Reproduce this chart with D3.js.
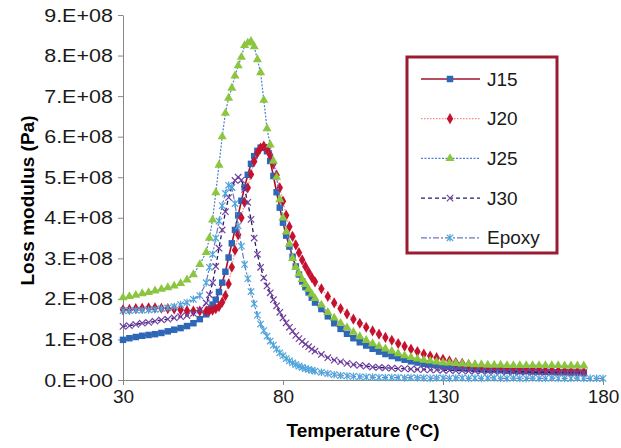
<!DOCTYPE html>
<html>
<head>
<meta charset="utf-8">
<script src="https://cdn.jsdelivr.net/npm/d3@7"></script>
<style>
  body { margin: 0; background: #fff; }
  text { font-family: "Liberation Sans", Arial, sans-serif; }
</style>
</head>
<body>
<div id="chart"></div>
<script>
// temperature (°C) of the readings of the J series
const temps = [30,32,34,36,38,40,42,44,46,48,50,52,54,56,
  57,58,59,60,61,62,63,64,65,66,67,68,69,70,71,72,73,74,75,76,77,78,79,80,81,82,83,84,85,86,87,88,89,90,
  92,94,96,98,100,102,104,106,108,110,112,114,116,118,120,122,124,126,128,130,132,134,136,138,140,
  142,144,146,148,150,152,154,156,158,160,162,164,166,168,170,172,174];
const epoxyTemps = temps.concat([176, 178, 180]);

// loss modulus, in 1E+08 Pa
const j15 = [0.99,1.03,1.06,1.09,1.11,1.13,1.16,1.2,1.24,1.28,1.33,1.4,1.5,1.62,
  1.74,1.86,1.98,2.17,2.4,2.67,3.02,3.37,3.7,4.06,4.42,4.75,5.06,5.33,5.52,5.65,5.73,5.74,5.64,5.4,
  5.03,4.63,4.25,3.88,3.56,3.29,3.04,2.8,2.6,2.43,2.29,2.16,2.03,1.91,
  1.75,1.57,1.4,1.26,1.14,1.03,0.93,0.85,0.77,0.7,0.64,0.59,0.54,0.5,0.46,0.43,0.4,0.38,0.36,0.34,
  0.33,0.31,0.3,0.29,0.27,0.26,0.25,0.25,0.24,0.23,0.23,0.22,0.22,0.21,0.21,0.2,0.2,0.19,0.19,0.18,0.18,0.17];
const j20 = [1.73,1.74,1.76,1.77,1.78,1.78,1.77,1.76,1.75,1.73,1.71,1.7,1.7,1.7,
  1.71,1.72,1.76,1.81,1.92,2.08,2.37,2.78,3.2,3.58,4.0,4.38,4.74,5.07,5.39,5.6,5.72,5.77,5.69,5.55,
  5.33,5.05,4.74,4.41,4.06,3.78,3.54,3.33,3.14,2.96,2.8,2.66,2.53,2.42,
  2.25,2.06,1.9,1.76,1.63,1.5,1.4,1.3,1.21,1.13,1.05,0.98,0.9,0.83,0.76,0.7,0.64,0.59,0.55,0.51,
  0.47,0.43,0.41,0.38,0.36,0.35,0.33,0.32,0.31,0.3,0.28,0.27,0.26,0.25,0.24,0.23,0.23,0.22,0.22,0.21,0.21,0.2];
const j25 = [2.03,2.06,2.09,2.13,2.16,2.2,2.24,2.28,2.32,2.38,2.47,2.6,2.85,3.15,
  3.5,3.95,4.62,5.3,6.0,6.58,6.95,7.2,7.5,7.75,7.96,8.25,8.31,8.35,8.22,7.9,7.58,6.9,6.2,5.8,
  5.4,5.0,4.45,4.0,3.65,3.35,3.0,2.78,2.62,2.48,2.36,2.24,2.12,2.01,
  1.85,1.67,1.53,1.4,1.29,1.18,1.07,0.98,0.9,0.83,0.77,0.71,0.65,0.6,0.56,0.52,0.49,0.47,0.45,0.43,
  0.42,0.41,0.4,0.39,0.38,0.38,0.37,0.37,0.37,0.36,0.36,0.36,0.36,0.36,0.36,0.36,0.36,0.36,0.35,0.35,0.35,0.35];
const j30 = [1.32,1.34,1.37,1.4,1.42,1.45,1.48,1.5,1.53,1.56,1.59,1.64,1.72,1.9,
  2.1,2.4,2.8,3.25,3.7,4.15,4.5,4.75,4.92,5.0,4.93,4.7,4.38,3.96,3.5,3.1,2.78,2.52,2.32,2.15,
  1.98,1.83,1.67,1.53,1.41,1.3,1.2,1.1,1.02,0.95,0.88,0.82,0.76,0.71,
  0.63,0.55,0.49,0.45,0.41,0.38,0.36,0.34,0.32,0.31,0.3,0.29,0.28,0.28,0.27,0.26,0.26,0.25,0.25,0.24,
  0.24,0.23,0.23,0.22,0.22,0.22,0.21,0.21,0.21,0.2,0.2,0.2,0.2,0.19,0.19,0.19,0.19,0.18,0.18,0.18,0.18,0.18];
const epoxy = [1.71,1.71,1.72,1.72,1.73,1.74,1.76,1.78,1.81,1.86,1.91,1.99,2.08,2.4,
  2.78,3.1,3.5,3.92,4.3,4.6,4.8,4.75,4.35,3.8,3.3,2.85,2.5,2.18,1.88,1.6,1.38,1.22,1.08,0.96,
  0.86,0.76,0.67,0.6,0.53,0.47,0.42,0.38,0.34,0.31,0.28,0.26,0.24,0.22,
  0.19,0.16,0.13,0.11,0.1,0.09,0.08,0.07,0.07,0.06,0.06,0.06,0.06,0.05,0.06,0.05,0.05,0.04,0.05,0.05,
  0.04,0.05,0.05,0.04,0.05,0.04,0.05,0.05,0.04,0.04,0.05,0.04,0.04,0.05,0.04,0.04,0.05,0.04,0.04,0.04,
  0.05,0.04,0.04,0.04,0.04];

const seriesNames = ["J15", "J20", "J25", "J30", "Epoxy"];
const xTicks = [30, 80, 130, 180];
const yTicks = [0, 1, 2, 3, 4, 5, 6, 7, 8, 9];

// set the dimensions and margins of the graph
const margin = {top: 15, right: 18, bottom: 68, left: 123},
    width = 621 - margin.left - margin.right,
    height = 448 - margin.top - margin.bottom;

const root = d3.select("#chart")
  .append("svg")
    .attr("width", 621)
    .attr("height", 448);

const svg = root.append("g")
    .attr("transform", `translate(${margin.left},${margin.top})`);

// scales
const x = d3.scaleLinear().domain([30, 180]).range([0, width]);
const y = d3.scaleLinear().domain([0, 9]).range([height, 0]);

// X axis
const xAxis = svg.append("g")
  .attr("transform", `translate(0, ${height})`)
  .call(d3.axisBottom(x).tickValues(xTicks).tickSize(5).tickSizeOuter(0).tickPadding(5));

// Y axis
const yAxis = svg.append("g")
  .call(d3.axisLeft(y).tickValues(yTicks).tickSize(5).tickSizeOuter(0).tickPadding(4)
    .tickFormat(d => d === 0 ? "0.E+00" : d + ".E+08"));

[xAxis, yAxis].forEach(ax => {
  ax.selectAll("path, line").attr("stroke", "#878787");
  ax.selectAll("text").attr("fill", "#1a1a1a").style("font-size", "19px")
    .style("font-family", '"Liberation Sans", Arial, sans-serif');
});
// the value labels are a little wider in the original
yAxis.selectAll("text").attr("transform", "scale(1.13,1)");

// axis titles
svg.append("text")
  .attr("x", width / 2)
  .attr("y", height + 57)
  .attr("text-anchor", "middle")
  .style("font-size", "19px")
  .style("font-weight", "bold")
  .text("Temperature (°C)");

svg.append("text")
  .attr("transform", `translate(${27 - margin.left}, ${height / 2 + 3}) rotate(-90)`)
  .attr("text-anchor", "middle")
  .attr("dy", "0.35em")
  .style("font-size", "19px")
  .style("font-weight", "bold")
  .text("Loss modulus (Pa)");

// marker shapes
const cross = "M-3.2,-3.2L3.2,3.2M-3.2,3.2L3.2,-3.2";
const star = "M-3.2,-3.2L3.2,3.2M-3.2,3.2L3.2,-3.2M0,-3.8L0,3.8";
const styles = [
  {t: temps, v: j15, line: "#a2122c", w: 1.6, dash: null,
   mark: d3.symbol(d3.symbolSquare, 42)(), fill: "#2d68b8", stroke: "none"},
  {t: temps, v: j20, line: "#f08a8a", w: 1.2, dash: "1.5,1.5",
   mark: d3.symbol(d3.symbolDiamond, 36)(), fill: "#c41230", stroke: "none"},
  {t: temps, v: j25, line: "#4a7fd4", w: 1.2, dash: "2,1.5",
   mark: d3.symbol(d3.symbolTriangle, 36)(), fill: "#8cc63e", stroke: "none"},
  {t: temps, v: j30, line: "#1e1e6e", w: 1.3, dash: "4,3",
   mark: cross, fill: "none", stroke: "#7340a0"},
  {t: epoxyTemps, v: epoxy, line: "#6a78c4", w: 1.2, dash: "6,2,2,2",
   mark: star, fill: "none", stroke: "#4fa6dc"}
];

const line = d3.line().x(d => x(d[0])).y(d => y(d[1]));

styles.forEach((s, i) => {
  const pts = s.t.map((t, k) => [t, s.v[k]]);
  svg.append("path")
    .datum(pts)
    .attr("fill", "none")
    .attr("stroke", s.line)
    .attr("stroke-width", s.w)
    .attr("stroke-dasharray", s.dash)
    .attr("d", line);
  svg.append("g")
    .selectAll("path")
    .data(pts)
    .join("path")
      .attr("transform", d => `translate(${x(d[0])},${y(d[1])})`)
      .attr("d", s.mark)
      .attr("fill", s.fill)
      .attr("stroke", s.stroke)
      .attr("stroke-width", 1.2);
});

// legend
const legend = root.append("g");
legend.append("rect")
  .attr("x", 407).attr("y", 57)
  .attr("width", 150).attr("height", 196)
  .attr("fill", "#fff")
  .attr("stroke", "#9b1b30")
  .attr("stroke-width", 3);

seriesNames.forEach((name, i) => {
  const s = styles[i];
  const ly = 79 + i * 39.7;
  legend.append("line")
    .attr("x1", 421).attr("x2", 480)
    .attr("y1", ly).attr("y2", ly)
    .attr("stroke", s.line)
    .attr("stroke-width", s.w)
    .attr("stroke-dasharray", s.dash);
  legend.append("path")
    .attr("transform", `translate(450,${ly})`)
    .attr("d", s.mark)
    .attr("fill", s.fill)
    .attr("stroke", s.stroke)
    .attr("stroke-width", 1.2);
  legend.append("text")
    .attr("x", 487).attr("y", ly)
    .attr("dy", "0.35em")
    .style("font-size", "19px")
    .attr("fill", "#1a1a1a")
    .text(name);
});
</script>
</body>
</html>
